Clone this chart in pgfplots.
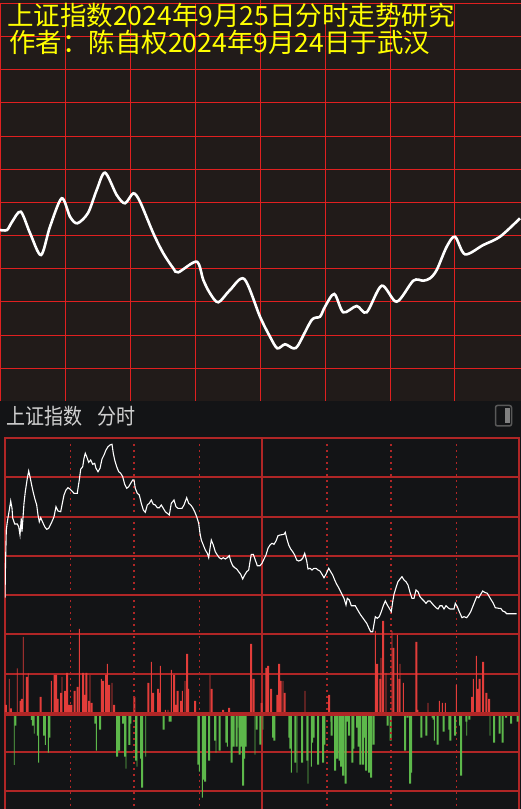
\documentclass[border=0pt]{standalone}
\usepackage{pgfplots}
\pgfplotsset{compat=1.18}
\usepackage{fontspec}
\newfontfamily\cjk{Noto Sans CJK SC}
\definecolor{topbg}{HTML}{211B19}
\definecolor{botbg}{HTML}{131416}
\definecolor{topgrid}{HTML}{E02020}
\definecolor{botgrid}{HTML}{B02626}
\definecolor{upred}{HTML}{E23D3A}
\definecolor{downgreen}{HTML}{5DB84B}
\definecolor{hdrtext}{HTML}{D0D0D0}
\definecolor{titley}{HTML}{FFFF00}
\pgfplotsset{
  blank/.style={
    scale only axis, axis line style={draw=none}, tick style={draw=none},
    xtick=\empty, ytick=\empty, enlargelimits=false, clip=true,
  }
}
\begin{document}
\begin{tikzpicture}[x=1pt,y=1pt]
\path[use as bounding box] (0pt,0pt) rectangle (521pt,809pt);
\fill[topbg] (0pt,408pt) rectangle (521pt,809pt);
\fill[botbg] (0pt,0pt) rectangle (521pt,408pt);
% ---------------- top panel grid ----------------
\begin{scope}[draw=topgrid, line width=1pt]
\foreach \yy in {805.5,772.5,739.5,706.5,672.5,639.5,606.5,573.5,540.5,507.5,473.5,440.5}
  \draw (0pt,\yy pt) -- (521pt,\yy pt);
\foreach \xx in {0.5,65.5,130.5,195.5,325.5,390.5,454.5}
  \draw (\xx pt,408pt) -- (\xx pt,806pt);
\draw (260.5pt,408pt) -- (260.5pt,809pt);
\end{scope}
% ---------------- top panel curve ----------------
\begin{axis}[blank, at={(0pt,408pt)}, anchor=south west, width=521pt, height=401pt,
  xmin=0, xmax=521, ymin=0, ymax=401]
\addplot[white, line width=2.6pt, smooth] coordinates {
(0,171) (7,171) (12,179) (20.7,189.3) (30,168) (41,146) (50,174.3) (61.7,202.7)
(70,184.3) (77.3,177.7) (88,188) (96.7,211) (105,228.3) (116.7,206) (125,197.7)
(133.3,207.7) (140,199.3) (153.3,167.7) (163.3,147.7) (173.3,132.7) (178.3,128.7)
(196.7,139.3) (203.3,121) (210,107.7) (218.3,98.7) (230,111) (244.3,122) (260,84.3)
(270,64.3) (277.3,52.7) (285,56.7) (293.3,52.7) (298.3,56) (311.7,81) (320,84.3)
(325,94.3) (334.3,107) (343.3,88.7) (356.7,95) (366.7,88.7) (381.7,115.3) (396.7,99.3)
(413.3,120.3) (423.3,120.3) (430,122.7) (436.7,131) (446.7,154.3) (455,164.3)
(465,146.7) (483.3,156) (500,164.3) (520,182.7)
};
\end{axis}
% ---------------- bottom panel grid (below bars) ----------------
\begin{scope}[draw=botgrid, line width=2pt]
\foreach \yy in {371,332,292,253,214,175,135,57,18}
  \draw (4pt,\yy pt) -- (519.5pt,\yy pt);
\foreach \xx in {5,262,518.5}
  \draw (\xx pt,0pt) -- (\xx pt,372pt);
\end{scope}
\begin{scope}[draw=botgrid, line width=1pt, dash pattern=on 2pt off 4pt]
\foreach \xx in {70.5,199.5,456.5}
  \draw (\xx pt,365pt) -- (\xx pt,0pt);
\end{scope}
% ---------------- bottom panel: bars ----------------
\begin{axis}[blank, at={(5pt,0pt)}, anchor=south west, width=513.5pt, height=370.7pt,
  xmin=5, xmax=518.5, ymin=-95.3, ymax=275.4]
% red, wide
\addplot[ybar, bar shift=0pt, bar width=2pt, fill=upred, draw=none] coordinates {
(6,8.7) (11,5.3) (20.7,12.7) (22,14.7) (27,36.7) (40.7,16.7) (54.5,38.7) (56,38.7)
(57.7,14.7) (61,20.7) (65,22.7) (67,40.7) (69,8.7) (71.3,8.7) (74.5,22.7) (77.7,26.7)
(83,40.7) (84.7,18.7) (86.3,40.7) (89,12.7) (91.7,10.7) (103,32.7) (106,38.7) (109,28.7)
(114,8.7) (134.3,16.7) (148.3,30.7) (153,20.7) (158,24.7) (159.7,20.7) (174,38.7)
(175.7,8.7) (177.7,22.7) (181,12.7) (187,59.7) (188,24.7) (195,12.7) (211.7,24.7)
(223,3.7) (229,5.7) (251,69.7) (253.7,34.7) (261.7,10.7) (266.3,45.7) (268,47.7)
(271,24.7) (277.3,18.7) (279,49.7) (280.7,32.7) (284.7,20.7) (329,18.7) (377,49.7)
(380.3,34.7) (383,92.7) (393.3,65.7) (399.3,34.7) (416.3,71.7) (417.3,3.7) (472,16.7)
(477.7,24.7) (479.7,34.7) (483,51.7) (486.3,20.7) (489,14.7)
};
% red, thin
\addplot[ybar, bar shift=0pt, bar width=0.9pt, fill=upred, draw=none] coordinates {
(9.3,34.7) (17.3,45.4) (23.3,76.7) (28.3,40.4) (51.3,32.7) (62,36.7) (79.3,84.7)
(90,38.7) (101.3,34.7) (107.3,49.7) (112,30.7) (151.3,51.7) (160.3,47.7) (165.3,3.7)
(168,3.7) (171.3,43.7) (182.3,22.7) (185,32.7) (210,38.7) (283,32.7) (305,22.7)
(375.3,82.7) (381,55.7) (386,40.7) (392,82.7) (397.3,78.7) (400,49.7) (403.3,30.7)
(428,10.7) (439.3,12.7) (442.3,10.7) (445.3,10.7) (456.3,28.7) (473.3,34.7) (476.3,57.7)
};
% green, wide
\addplot[ybar, bar shift=0pt, bar width=2pt, fill=downgreen, draw=none] coordinates {
(15.3,-12) (32,-6.3) (33,-12) (38,-22) (44,-22) (49.3,-24) (95.3,-10) (100,-16)
(117,-43) (119,-37) (123,-10) (125,-43) (129.3,-31.3) (130.3,-10) (136,-47) (141,-45)
(142,-74) (163.7,-16) (169.7,-8) (170.5,-8) (192,-2) (198.3,-51) (203,-66) (205,-68)
(209,-47) (215,-27) (219.7,-37) (226.3,-29) (231.7,-49) (233.7,-33) (236.7,-33)
(239.7,-41) (241.3,-33) (243,-72) (244,-45) (245.7,-33) (256.7,-16) (260.3,-31)
(273,-24) (274.3,-27) (289.3,-24) (290.3,-35) (295.3,-49) (302,-49) (307.3,-47)
(312,-29) (313.7,-24) (318,-51) (323,-49) (324.3,-31) (331.3,-8) (331.7,-22) (335,-57)
(337,-45) (339.7,-47) (341,-53) (343,-62) (345.7,-70) (347,-8) (349,-22) (352.3,-49)
(353.3,-35) (357,-14) (358.7,-33) (360.3,-51) (363,-51) (364,-24) (366,-57) (369,-59)
(371,-64) (373.7,-31) (387.7,-12) (390.7,-27) (405,-37) (407.7,-4) (410,-70) (411,-59)
(421.3,-24) (426.3,-22) (432.7,-4) (433.7,-6) (437.7,-31) (443.7,-18) (449.3,-16)
(450.3,-27) (455,-22) (460,-12) (461,-62) (466.3,-8) (469.3,-6) (494,-29) (499.7,-20)
(502.7,-29) (506,-4) (511,-10) (517.5,-8)
};
% green, thin
\addplot[ybar, bar shift=0pt, bar width=0.9pt, fill=downgreen, draw=none] coordinates {
(14.3,-51.3) (34.3,-20) (38.7,-49) (45.3,-31.3) (48.3,-39) (96.3,-37) (126,-55)
(137,-53) (142.3,-66) (145.7,-43) (154,-2) (199.3,-58) (202.3,-84) (216,-39)
(227.3,-33) (238,-14) (255,-41) (263,-16) (291.3,-59) (297,-59) (308,-70) (311.3,-53)
(434.3,-27) (466.7,-22) (490,-22)
};
\end{axis}
% ---------------- bottom panel grid (above bars) ----------------
\begin{scope}[draw=botgrid, line width=2pt, dash pattern=on 2pt off 4pt]
\foreach \xx in {134,327,391}
  \draw (\xx pt,365pt) -- (\xx pt,0pt);
\end{scope}
\draw[botgrid, line width=4pt] (4pt,95.3pt) -- (519.5pt,95.3pt);
% ---------------- bottom panel: price line ----------------
\begin{axis}[blank, at={(5pt,0pt)}, anchor=south west, width=513.5pt, height=370.7pt,
  xmin=5, xmax=518.5, ymin=438.3, ymax=809, y dir=reverse]
\addplot[white, line width=1.1pt] coordinates {
(5,597.7) (5.5,565) (6.3,530) (7.3,522) (9.3,510) (10.7,501) (12,508.3) (12.7,518)
(14.7,524) (17.3,524) (18.7,526.7) (20,535) (21.3,518.3) (22,531.7) (24,503.3)
(25.3,491.7) (27.3,478.3) (28.7,471) (30,476.7) (31.3,483.3) (32.7,490) (34.7,498.3)
(36.7,505) (38,515) (39.3,521.7) (40.7,517.7) (42.7,522.3) (44.7,526.7) (46.7,529.3)
(48.7,528.3) (50.7,524.3) (52.7,520) (54,516.7) (56,506.7) (58,511) (60.7,511.7)
(62,505) (64,495) (66,490) (68,487.7) (70,489) (74,493.3) (77.3,493.3) (78,488.3)
(79.3,480) (80.7,469.3) (82.7,466.7) (84,458.3) (85.3,453.3) (86.7,456.7) (88.7,462.3)
(90.7,460) (92.7,464.3) (94.7,463.3) (96,468.3) (98,471.7) (100,468.3) (102,459)
(104,455) (106,450) (108,446.7) (110,445) (112,444.3) (113.3,453.3) (114.7,460)
(116.7,466.7) (118.7,471.7) (120.7,473.3) (122.7,476.7) (124.7,484.3) (126.7,488.3)
(128.7,486.7) (130.7,483.3) (132.7,480) (134,480) (135.3,488.3) (137.3,493.3)
(139.3,495) (141.3,503.3) (143.3,510) (145.3,512.3) (147.3,505) (149.3,503.3)
(151.3,500) (153.3,504.3) (155.3,505) (157.3,507.7) (159.3,507.7) (161.3,505)
(163.3,508.3) (165.3,511.7) (167.3,513.3) (169.3,515) (171.3,503.3) (174,500)
(176,506.7) (178,508.3) (182,508.3) (184,505) (186.7,497.7) (188.7,503.3) (190.7,505)
(192.7,507.7) (194.7,511.7) (196.7,516.7) (198.7,523.3) (200,533.3) (201.3,540)
(203.3,545) (205.3,550) (207.3,553.3) (208.7,557.7) (210,548.3) (211.3,540)
(213.3,545) (215.3,551.7) (217.3,555) (219.3,557.7) (221.3,559) (223.3,557.7)
(225.3,559) (227.3,557.7) (229.3,555.7) (230.7,561) (232.7,565.7) (234.7,567.7)
(236.7,569) (238.7,571.7) (240.7,574.3) (242.7,579) (244.7,575) (246.7,571.7)
(248.7,570) (250,561.7) (251.3,554.3) (253.3,554.3) (255.3,560) (257.3,565.7)
(260,565.7) (262,563.3) (264,559) (266,555) (268,548.3) (270,545) (272,543.3)
(274,544.3) (276,541) (278,535.7) (280,535) (284,534.3) (285.3,532.3) (286.7,538.3)
(288.7,545) (290.7,549) (292.7,551.7) (294.7,555) (296.7,560) (298.7,561)
(300.7,560.3) (302.7,558.3) (304.7,553.3) (306.7,561) (308,569) (310,568.3) (312,570)
(314,568.3) (316,568.3) (318,570) (320,571) (322,574.3) (324,577.7) (326,574.3)
(328.7,568.3) (330.7,571.7) (332.7,575) (334.7,580) (336.7,584.3) (338.7,587.7)
(340.7,591.7) (342.7,595.7) (344,598.3) (346,605) (347.3,598.3) (349.3,600)
(351.3,605.7) (355.3,605.7) (356.7,608.3) (358.7,611.7) (360.7,615) (362.7,617.7)
(366.7,623.3) (368.7,627.7) (370.7,631.7) (372.7,631.7) (374,624.3) (375.3,616.7)
(377.3,618.3) (379.3,616.7) (381.3,611.7) (383.3,605.7) (385.3,601) (387.3,605)
(389.3,608.3) (391.3,611.7) (392.7,601.7) (394,594.3) (396,587.7) (398,581.7)
(400,579) (402,576.7) (404,580) (406,581.7) (408,585) (410,592.3) (412,598.3)
(414,598.3) (416,590) (418,591.7) (420,596.7) (422,599) (424,601) (426,603.3)
(428,601) (430,601) (432,603.3) (434,605.7) (436,607.7) (438,609) (440,605.7)
(442,605.7) (444,609) (446,605.7) (448,607.7) (450,609) (454,609) (455.3,603.3)
(457.3,606.7) (459.3,611.7) (462,617.7) (464,616.7) (466.7,617.7) (468.7,615)
(470.7,611.7) (472.7,606.7) (474.7,601.7) (476.7,596.7) (478.7,597.7) (480.7,594.3)
(482.7,591) (484.7,592.3) (487.3,593.3) (489.3,596.7) (491.3,600) (493.3,603.3)
(495.3,607.7) (498.7,608.3) (500.7,608.3) (502.7,611) (504.7,611.7) (506.7,613.7)
(509.3,613.7) (516.7,613.7)
};
\end{axis}
% ---------------- texts and header ----------------
\node[anchor=base west, inner sep=0pt, text=titley] at (7pt,783pt)
  {\cjk\fontsize{26.5}{26.5}\selectfont 上证指数2024年9月25日分时走势研究};
\node[anchor=base west, inner sep=0pt, text=titley] at (9pt,756.5pt)
  {\cjk\fontsize{26.5}{26.5}\selectfont 作者：陈自权2024年9月24日于武汉};
\node[anchor=base west, inner sep=0pt, text=hdrtext] at (6.5pt,384.7pt)
  {\scalebox{1}[1.15]{\cjk\fontsize{19}{19}\selectfont 上证指数}};
\node[anchor=base west, inner sep=0pt, text=hdrtext] at (97pt,384.7pt)
  {\scalebox{1}[1.15]{\cjk\fontsize{19}{19}\selectfont 分时}};
\draw[draw=gray!70!black, line width=1.5pt, rounded corners=2pt] (495.5pt,383pt) rectangle (511.5pt,403.5pt);
\fill[gray] (505pt,386pt) rectangle (509.5pt,400.5pt);
\end{tikzpicture}
\end{document}
